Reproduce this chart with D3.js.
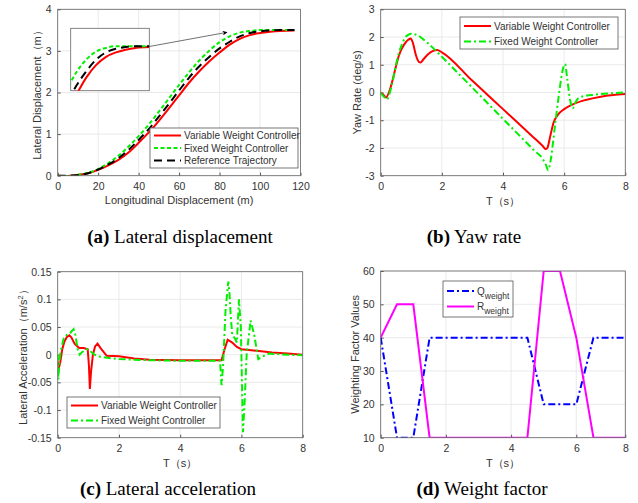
<!DOCTYPE html>
<html>
<head>
<meta charset="utf-8">
<script src="https://cdn.jsdelivr.net/npm/d3@7"></script>
<style>
  body { margin: 0; background: #fff; }
  svg { display: block; }
</style>
</head>
<body>
<svg id="chart" width="638" height="503"></svg>
<script>
// (a) lateral displacement vs longitudinal displacement
const aX = [0, 5, 10, 15, 20, 25, 30, 35, 40, 45, 50, 55, 60, 65, 70, 75, 80, 85, 90, 95, 100, 105, 110, 117];
const aRef = [0, 0, 0.02, 0.06, 0.15, 0.27, 0.42, 0.62, 0.86, 1.12, 1.42, 1.73, 2.05, 2.36, 2.63, 2.86, 3.06, 3.22, 3.35, 3.43, 3.47, 3.49, 3.5, 3.5];
const aVar = [0, -0.01, 0.02, 0.06, 0.14, 0.25, 0.38, 0.56, 0.79, 1.04, 1.32, 1.62, 1.93, 2.24, 2.51, 2.75, 2.96, 3.15, 3.29, 3.38, 3.43, 3.46, 3.48, 3.49];
const aFix = [0, -0.01, 0.02, 0.07, 0.16, 0.3, 0.48, 0.7, 0.95, 1.23, 1.54, 1.86, 2.18, 2.49, 2.77, 3.01, 3.21, 3.35, 3.44, 3.48, 3.5, 3.5, 3.5, 3.5];

// (b) yaw rate
const bVarT = [0, 0.1, 0.17, 0.3, 0.4, 0.5, 0.6, 0.7, 0.8, 0.9, 0.98, 1.05, 1.15, 1.25, 1.3, 1.4, 1.55, 1.7, 1.85, 2.0, 3.0, 4.0, 5.0, 5.3, 5.4, 5.45, 5.55, 5.65, 5.8, 6.0, 6.3, 6.7, 7.2, 7.6, 8];
const bVarY = [0, -0.1, -0.18, 0.1, 0.5, 0.95, 1.35, 1.6, 1.78, 1.9, 1.95, 1.8, 1.35, 1.1, 1.08, 1.2, 1.38, 1.49, 1.53, 1.45, 0.42, -0.6, -1.62, -1.93, -2.04, -2.0, -1.55, -1.1, -0.8, -0.6, -0.42, -0.27, -0.15, -0.09, -0.05];
const bFixT = [0, 0.1, 0.2, 0.3, 0.4, 0.5, 0.6, 0.7, 0.8, 0.9, 1.0, 1.1, 1.3, 1.5, 1.72, 2.0, 3.0, 4.0, 5.0, 5.32, 5.4, 5.48, 5.55, 5.7, 5.85, 5.95, 6.03, 6.1, 6.2, 6.28, 6.35, 6.46, 6.7, 7.0, 7.5, 8];
const bFixY = [0, -0.15, -0.25, 0, 0.45, 1.0, 1.45, 1.75, 1.98, 2.08, 2.12, 2.1, 2.0, 1.82, 1.6, 1.29, 0.17, -0.95, -2.07, -2.43, -2.6, -2.8, -2.5, -1.2, 0.1, 0.8, 1.03, 0.5, -0.3, -0.57, -0.4, -0.21, -0.12, -0.08, -0.03, 0];

// (c) lateral acceleration
const cVarT = [0, 0.03, 0.08, 0.15, 0.22, 0.3, 0.38, 0.45, 0.55, 0.7, 0.85, 0.98, 1.02, 1.05, 1.09, 1.15, 1.22, 1.3, 1.4, 1.6, 2.0, 2.5, 3.0, 4.0, 5.0, 5.35, 5.45, 5.55, 5.7, 5.85, 6.0, 6.5, 7.0, 7.5, 8];
const cVarY = [-0.012, -0.025, -0.015, 0.01, 0.024, 0.032, 0.035, 0.031, 0.02, 0.012, 0.012, 0.01, -0.02, -0.062, -0.03, 0, 0.015, 0.02, 0.012, -0.002, -0.003, -0.007, -0.009, -0.01, -0.01, -0.01, 0.01, 0.027, 0.022, 0.014, 0.01, 0.007, 0.004, 0.002, 0];
const cFixT = [0, 0.02, 0.05, 0.08, 0.12, 0.2, 0.3, 0.4, 0.45, 0.52, 0.58, 0.65, 0.72, 0.8, 0.95, 1.05, 1.2, 1.4, 2.0, 3.0, 4.0, 5.0, 5.3, 5.35, 5.4, 5.48, 5.57, 5.61, 5.65, 5.7, 5.78, 5.85, 5.92, 5.98, 6.05, 6.1, 6.17, 6.3, 6.42, 6.55, 6.7, 6.9, 7.5, 8];
const cFixY = [0, -0.045, -0.02, 0, 0.012, 0.03, 0.036, 0.038, 0.042, 0.046, 0.035, 0.01, 0, 0.005, 0.01, 0.007, 0, -0.004, -0.008, -0.01, -0.011, -0.011, -0.011, -0.055, -0.02, 0.08, 0.132, 0.11, 0.07, 0.035, 0.03, 0.022, 0.1, 0.05, -0.14, -0.09, 0, 0.062, 0.035, -0.008, -0.003, 0.002, 0, -0.001];

// (d) weighting factors
const dQT = [0, 0.5, 1.0, 1.5, 4.5, 5.0, 6.0, 6.7, 8];
const dQY = [40, 10, 10, 40, 40, 20, 20, 40, 40];
const dRT = [0, 0.5, 1.0, 1.5, 4.5, 5.0, 5.5, 6.0, 6.7, 8];
const dRY = [40, 50, 50, 10, 10, 60, 60, 40, 10, 10];

const tTicks = [0, 2, 4, 6, 8];
const aXTicks = [0, 20, 40, 60, 80, 100, 120];
const aYTicks = [0, 1, 2, 3, 4];
const bYTicks = [-3, -2, -1, 0, 1, 2, 3];
const cYTicks = [-0.15, -0.1, -0.05, 0, 0.05, 0.1, 0.15];
const dYTicks = [10, 20, 30, 40, 50, 60];

const legVarFix = ['Variable Weight Controller', 'Fixed Weight Controller'];
const legA = ['Variable Weight Controller', 'Fixed Weight Controller', 'Reference Trajectory'];
const captions = [
  { tag: '(a)', text: ' Lateral displacement', x: 180, y: 243 },
  { tag: '(b)', text: ' Yaw rate', x: 474, y: 243 },
  { tag: '(c)', text: ' Lateral acceleration', x: 168, y: 495 },
  { tag: '(d)', text: ' Weight factor', x: 482, y: 495 }
];

const svg = d3.select('#chart');
const FONT = "'Liberation Sans', Arial, sans-serif";
const TXT = '#333';
const RED = '#ff0000', GREEN = '#00f000', BLACK = '#000', BLUE = '#0000ff', MAG = '#ff00ff';
const fmt = v => String(v).replace('−', '-');

function panel(o) {
  const g = svg.append('g');
  const x = o.x, y = o.y;
  const xr = x.range(), yr = y.range();
  const x0 = xr[0], x1 = xr[xr.length - 1], y1 = yr[0], y0 = yr[yr.length - 1];

  // grid
  o.xTicks.forEach(t => g.append('line').attr('x1', x(t)).attr('x2', x(t)).attr('y1', y0).attr('y2', y1)
    .attr('stroke', '#e4e4e4').attr('stroke-width', 0.8));
  o.yTicks.forEach(t => g.append('line').attr('x1', x0).attr('x2', x1).attr('y1', y(t)).attr('y2', y(t))
    .attr('stroke', '#e4e4e4').attr('stroke-width', 0.8));

  // axes with inward ticks
  const ax = g.append('g').attr('transform', `translate(0,${y1})`)
    .call(d3.axisBottom(x).tickValues(o.xTicks).tickSize(-3).tickPadding(7).tickFormat(fmt));
  const ay = g.append('g').attr('transform', `translate(${x0},0)`)
    .call(d3.axisLeft(y).tickValues(o.yTicks).tickSize(-3).tickPadding(6).tickFormat(fmt));
  [ax, ay].forEach(a => {
    a.select('.domain').remove();
    a.selectAll('line').attr('stroke', '#555');
    a.selectAll('text').attr('fill', TXT).style('font-family', FONT).style('font-size', '10.5px');
  });

  const clipId = 'clip' + Math.random().toString(36).slice(2);
  svg.append('clipPath').attr('id', clipId).append('rect')
    .attr('x', x0).attr('y', y0).attr('width', x1 - x0).attr('height', y1 - y0);
  const plot = g.append('g').attr('clip-path', `url(#${clipId})`);

  o.series.forEach(s => {
    const pts = s.t.map((t, i) => [t, s.v[i]]);
    plot.append('path').datum(pts)
      .attr('d', d3.line().x(d => x(d[0])).y(d => y(d[1])).curve(s.curve || d3.curveMonotoneX))
      .attr('fill', 'none').attr('stroke', s.color).attr('stroke-width', s.width || 2)
      .attr('stroke-dasharray', s.dash || null);
  });

  g.append('rect').attr('x', x0).attr('y', y0).attr('width', x1 - x0).attr('height', y1 - y0)
    .attr('fill', 'none').attr('stroke', '#666').attr('stroke-width', 0.8);

  g.append('text').attr('x', (x0 + x1) / 2).attr('y', o.xLabelY).attr('text-anchor', 'middle')
    .attr('fill', TXT).style('font-family', FONT).style('font-size', '11px').text(o.xLabel);
  const yl = g.append('text').attr('transform', `translate(${o.yLabelX},${(y0 + y1) / 2}) rotate(-90)`)
    .attr('text-anchor', 'middle').attr('fill', TXT).style('font-family', FONT).style('font-size', '11px');
  if (o.yLabelSup) {
    yl.append('tspan').text(o.yLabel);
    yl.append('tspan').text(o.yLabelSup).attr('dy', -4).style('font-size', '7.5px');
    yl.append('tspan').text(o.yLabelEnd).attr('dy', 4);
  } else yl.text(o.yLabel);

  return { g, plot };
}

function legend(g, box, items) {
  g.append('rect').attr('x', box.x).attr('y', box.y).attr('width', box.w).attr('height', box.h)
    .attr('fill', '#fff').attr('stroke', '#555').attr('stroke-width', 0.8);
  items.forEach((it, i) => {
    const yy = box.y + box.top + i * box.step;
    g.append('line').attr('x1', box.x + 4).attr('x2', box.x + 31).attr('y1', yy).attr('y2', yy)
      .attr('stroke', it.color).attr('stroke-width', 2).attr('stroke-dasharray', it.dash || null);
    const t = g.append('text').attr('x', box.x + 34).attr('y', yy + 3.5).attr('fill', TXT)
      .style('font-family', FONT).style('font-size', '10px');
    t.append('tspan').text(it.label);
    if (it.sub) t.append('tspan').text(it.sub).attr('dy', 4).style('font-size', '8.5px');
  });
}

// ---- (a)
const xa = d3.scaleLinear().domain([0, 120]).range([57.7, 300.5]);
const ya = d3.scaleLinear().domain([0, 4]).range([175.7, 9.3]);
const dashFixA = '4,2.5', dashRef = '8,5', dashDD = '7,3,2,3';
const pa = panel({
  x: xa, y: ya, xTicks: aXTicks, yTicks: aYTicks,
  xLabel: 'Longitudinal Displacement (m)', xLabelY: 204,
  yLabel: 'Lateral Displacement（m）', yLabelX: 41,
  series: [
    { t: aX, v: aVar, color: RED },
    { t: aX, v: aFix, color: GREEN, dash: dashFixA },
    { t: aX, v: aRef, color: BLACK, dash: dashRef }
  ]
});
// inset zoom of the upper bend
const ix = d3.scaleLinear().domain([77, 117]).range([70.7, 149.3]);
const iy = d3.scaleLinear().domain([3.0, 3.7]).range([90.7, 28.3]);
svg.append('clipPath').attr('id', 'insetClip').append('rect')
  .attr('x', 70.7).attr('y', 28.3).attr('width', 78.6).attr('height', 62.4);
pa.g.append('rect').attr('x', 70.7).attr('y', 28.3).attr('width', 78.6).attr('height', 62.4)
  .attr('fill', '#fff').attr('stroke', '#666').attr('stroke-width', 0.8);
const ig = pa.g.append('g').attr('clip-path', 'url(#insetClip)');
[[aVar, RED, null], [aFix, GREEN, dashFixA], [aRef, BLACK, dashRef]].forEach(([v, c, d]) => {
  ig.append('path').datum(aX.map((t, i) => [t, v[i]]))
    .attr('d', d3.line().x(p => ix(p[0])).y(p => iy(p[1])).curve(d3.curveMonotoneX))
    .attr('fill', 'none').attr('stroke', c).attr('stroke-width', 2).attr('stroke-dasharray', d);
});
svg.append('defs').append('marker').attr('id', 'arrow').attr('viewBox', '0 0 10 10')
  .attr('refX', 9).attr('refY', 5).attr('markerWidth', 7).attr('markerHeight', 5).attr('orient', 'auto')
  .attr('markerUnits', 'userSpaceOnUse')
  .append('path').attr('d', 'M0,0 L10,5 L0,10 L3,5 Z').attr('fill', '#000');
pa.g.append('line').attr('x1', 149.3).attr('y1', 46.5).attr('x2', 227).attr('y2', 32.3)
  .attr('stroke', '#333').attr('stroke-width', 0.7).attr('marker-end', 'url(#arrow)');
legend(pa.g, { x: 150, y: 128, w: 148, h: 40, top: 7.5, step: 12.5 }, [
  { label: legA[0], color: RED },
  { label: legA[1], color: GREEN, dash: dashFixA },
  { label: legA[2], color: BLACK, dash: dashRef }
]);

// ---- (b)
const xb = d3.scaleLinear().domain([0, 8]).range([380.7, 625.3]);
const yb = d3.scaleLinear().domain([-3, 3]).range([175.7, 9.3]);
const pb = panel({
  x: xb, y: yb, xTicks: tTicks, yTicks: bYTicks,
  xLabel: 'T（s）', xLabelY: 205, yLabel: 'Yaw Rate (deg/s)', yLabelX: 361,
  series: [
    { t: bVarT, v: bVarY, color: RED },
    { t: bFixT, v: bFixY, color: GREEN, dash: dashDD }
  ]
});
legend(pb.g, { x: 460, y: 17, w: 158, h: 32, top: 9, step: 15.5 }, [
  { label: legVarFix[0], color: RED },
  { label: legVarFix[1], color: GREEN, dash: dashDD }
]);

// ---- (c)
const xc = d3.scaleLinear().domain([0, 8]).range([57.7, 302.7]);
const yc = d3.scaleLinear().domain([-0.15, 0.15]).range([437.7, 271.7]);
const pc = panel({
  x: xc, y: yc, xTicks: tTicks, yTicks: cYTicks,
  xLabel: 'T（s）', xLabelY: 467, yLabel: 'Lateral Acceleration（m/s', yLabelSup: '2', yLabelEnd: '）', yLabelX: 27,
  series: [
    { t: cVarT, v: cVarY, color: RED, curve: d3.curveLinear },
    { t: cFixT, v: cFixY, color: GREEN, dash: dashDD, curve: d3.curveLinear }
  ]
});
legend(pc.g, { x: 67, y: 397, w: 153, h: 31, top: 8.5, step: 15 }, [
  { label: legVarFix[0], color: RED },
  { label: legVarFix[1], color: GREEN, dash: dashDD }
]);

// ---- (d)  (the right end of this axis is compressed in the source figure)
const xd = d3.scaleLinear().domain([0, 6, 8]).range([380.7, 576.3, 625.3]);
const yd = d3.scaleLinear().domain([10, 60]).range([437.7, 271]);
const pd = panel({
  x: xd, y: yd, xTicks: tTicks, yTicks: dYTicks,
  xLabel: 'T（s）', xLabelY: 467, yLabel: 'Weighting Factor Values', yLabelX: 359,
  series: [
    { t: dQT, v: dQY, color: BLUE, dash: dashDD, curve: d3.curveLinear },
    { t: dRT, v: dRY, color: MAG, curve: d3.curveLinear }
  ]
});
legend(pd.g, { x: 443, y: 281, w: 70, h: 36, top: 10, step: 15.5 }, [
  { label: 'Q', sub: 'weight', color: BLUE, dash: dashDD },
  { label: 'R', sub: 'weight', color: MAG }
]);

// captions
captions.forEach(c => {
  const t = svg.append('text').attr('x', c.x).attr('y', c.y).attr('text-anchor', 'middle')
    .style('font-family', "'Liberation Serif', 'Times New Roman', serif").style('font-size', '19px').attr('fill', '#000');
  t.append('tspan').text(c.tag).style('font-weight', 'bold');
  t.append('tspan').text(c.text);
});
</script>
</body>
</html>
